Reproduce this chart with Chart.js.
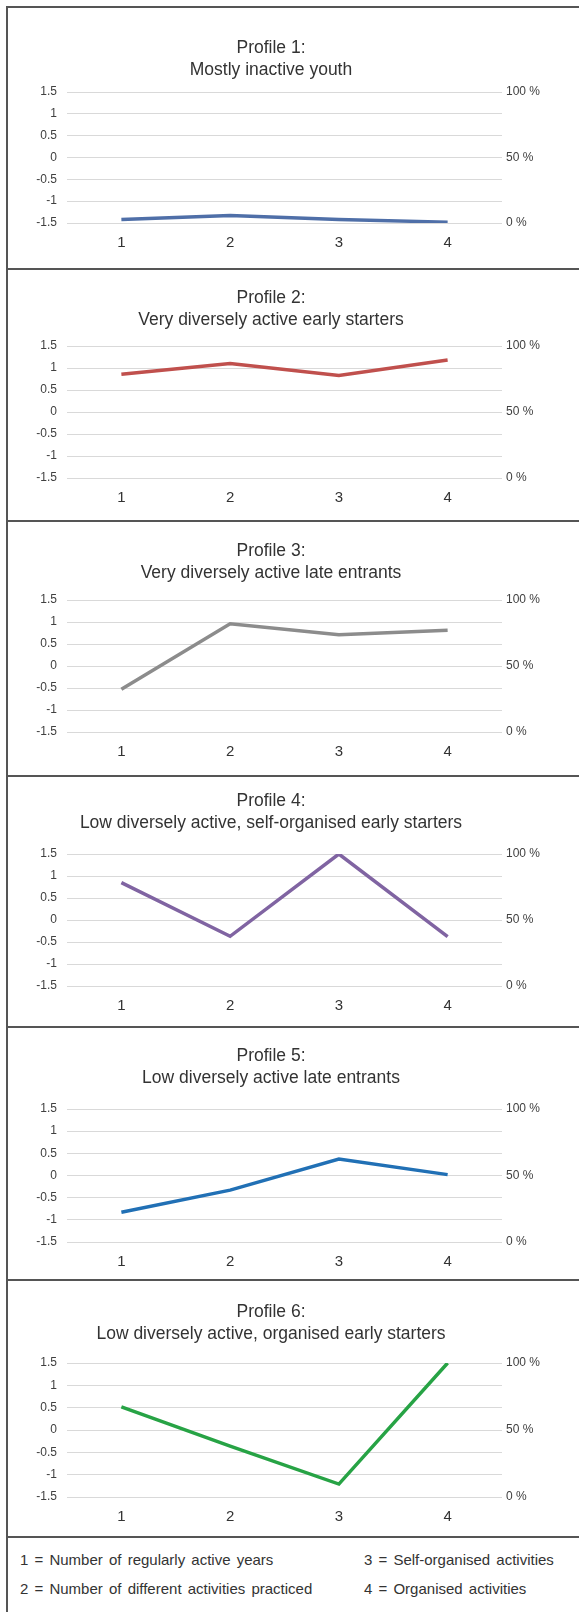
<!DOCTYPE html>
<html>
<head>
<meta charset="utf-8">
<title>Activity profiles</title>
<script src="https://cdn.jsdelivr.net/npm/chart.js@4.4.1/dist/chart.umd.min.js"></script>
<style>
    body {
        margin: 0;
        background: #fff;
        width: 579px;
        height: 1612px;
        overflow: hidden;
        position: relative;
        font-family: "Liberation Sans", Arial, sans-serif;
    }
    #frame {
        position: absolute;
        left: 6px;
        top: 6px;
        width: 600px;
        height: 1700px;
        border-left: 2px solid #555;
        border-top: 2px solid #555;
    }
    .sep {
        position: absolute;
        left: 6px;
        width: 600px;
        height: 2px;
        background: #555;
    }
    canvas {
        position: absolute;
        left: -8px;
    }
    .legend {
        position: absolute;
        font-size: 15px;
        line-height: 26px;
        color: #333;
        word-spacing: 2px;
        white-space: nowrap;
    }
</style>
</head>
<body>
<div id="frame"></div>

<script>
// Categories on the x axis
const categories = ['1', '2', '3', '4'];

// Profile titles (two lines each)
const profileTitles = [
    ['Profile 1:', 'Mostly inactive youth'],
    ['Profile 2:', 'Very diversely active early starters'],
    ['Profile 3:', 'Very diversely active late entrants'],
    ['Profile 4:', 'Low diversely active, self-organised early starters'],
    ['Profile 5:', 'Low diversely active late entrants'],
    ['Profile 6:', 'Low diversely active, organised early starters']
];

// Standardised values per profile
const profile1 = [-1.42, -1.33, -1.42, -1.48];
const profile2 = [0.86, 1.10, 0.83, 1.18];
const profile3 = [-0.53, 0.96, 0.71, 0.81];
const profile4 = [0.85, -0.37, 1.50, -0.38];
const profile5 = [-0.83, -0.33, 0.37, 0.02];
const profile6 = [0.52, -0.36, -1.21, 1.50];

// Right axis tick labels
const rightTickLabels = {0: '0 %', 50: '50 %', 100: '100 %'};

// Legend texts under the charts
const legendLeft = ['1 = Number of regularly active years', '2 = Number of different activities practiced'];
const legendRight = ['3 = Self-organised activities', '4 = Organised activities'];

const profileColors = ['#4f6fa8', '#c0504d', '#8c8c8c', '#8064a2', '#2170b5', '#27a345'];

// Where each panel sits on the page
const panelLayout = [
    {top: 8, height: 260, padTop: 29, padBottom: 11, xAxisHeight: 45},
    {top: 270, height: 250, padTop: 17, padBottom: 15, xAxisHeight: 42},
    {top: 522, height: 253, padTop: 18, padBottom: 16, xAxisHeight: 43},
    {top: 777, height: 249, padTop: 13, padBottom: 20, xAxisHeight: 40},
    {top: 1028, height: 251, padTop: 17, padBottom: 20, xAxisHeight: 37},
    {top: 1281, height: 255, padTop: 20, padBottom: 18, xAxisHeight: 39}
];
const separators = [268, 520, 775, 1026, 1279, 1536];

const fontFamily = '"Liberation Sans", Arial, sans-serif';

// Draw one profile panel
function drawProfile(index, values) {
    const box = panelLayout[index];
    const canvas = document.createElement('canvas');
    canvas.width = 600;
    canvas.height = box.height;
    canvas.style.top = box.top + 'px';
    document.body.appendChild(canvas);

    new Chart(canvas.getContext('2d'), {
        type: 'line',
        data: {
            labels: categories,
            datasets: [{
                data: values,
                borderColor: profileColors[index],
                backgroundColor: profileColors[index],
                borderWidth: 3.5,
                pointRadius: 0,
                tension: 0,
                fill: false
            }]
        },
        options: {
            responsive: false,
            animation: false,
            devicePixelRatio: 1,
            layout: {
                autoPadding: false,
                padding: {left: 0, right: 42, top: 0, bottom: 0}
            },
            plugins: {
                legend: {display: false},
                tooltip: {enabled: false},
                title: {
                    display: true,
                    text: profileTitles[index],
                    color: '#333',
                    font: {family: fontFamily, size: 17.5, weight: 'normal', lineHeight: 22 / 17.5},
                    padding: {top: box.padTop, bottom: box.padBottom}
                }
            },
            scales: {
                x: {
                    offset: true,
                    grid: {display: false},
                    border: {display: false},
                    ticks: {font: {family: fontFamily, size: 15}, color: '#333', padding: 3},
                    afterFit: function(scale) { scale.height = box.xAxisHeight; }
                },
                y: {
                    position: 'left',
                    min: -1.5,
                    max: 1.5,
                    grid: {color: '#d9d9d9', lineWidth: 1, drawTicks: false},
                    border: {display: false},
                    ticks: {
                        stepSize: 0.5,
                        font: {family: fontFamily, size: 12},
                        color: '#404040',
                        padding: 10,
                        callback: function(value) { return String(value); }
                    },
                    afterFit: function(scale) { scale.width = 75; }
                },
                y1: {
                    position: 'right',
                    min: 0,
                    max: 100,
                    grid: {drawOnChartArea: false, drawTicks: false},
                    border: {display: false},
                    ticks: {
                        stepSize: 50,
                        font: {family: fontFamily, size: 12},
                        color: '#404040',
                        padding: 4,
                        callback: function(value) { return rightTickLabels[value]; }
                    },
                    afterFit: function(scale) { scale.width = 48; }
                }
            }
        }
    });
}

// Separator lines between the panels
for (const y of separators) {
    const line = document.createElement('div');
    line.className = 'sep';
    line.style.top = y + 'px';
    document.body.appendChild(line);
}

const profiles = [profile1, profile2, profile3, profile4, profile5, profile6];
profiles.forEach(function(values, i) {
    drawProfile(i, values);
});

// Legend block
function addLegend(lines, left) {
    lines.forEach(function(text, i) {
        const div = document.createElement('div');
        div.className = 'legend';
        div.style.left = left + 'px';
        div.style.top = (1547 + i * 29) + 'px';
        div.textContent = text;
        document.body.appendChild(div);
    });
}
addLegend(legendLeft, 20);
addLegend(legendRight, 364);
</script>
</body>
</html>
